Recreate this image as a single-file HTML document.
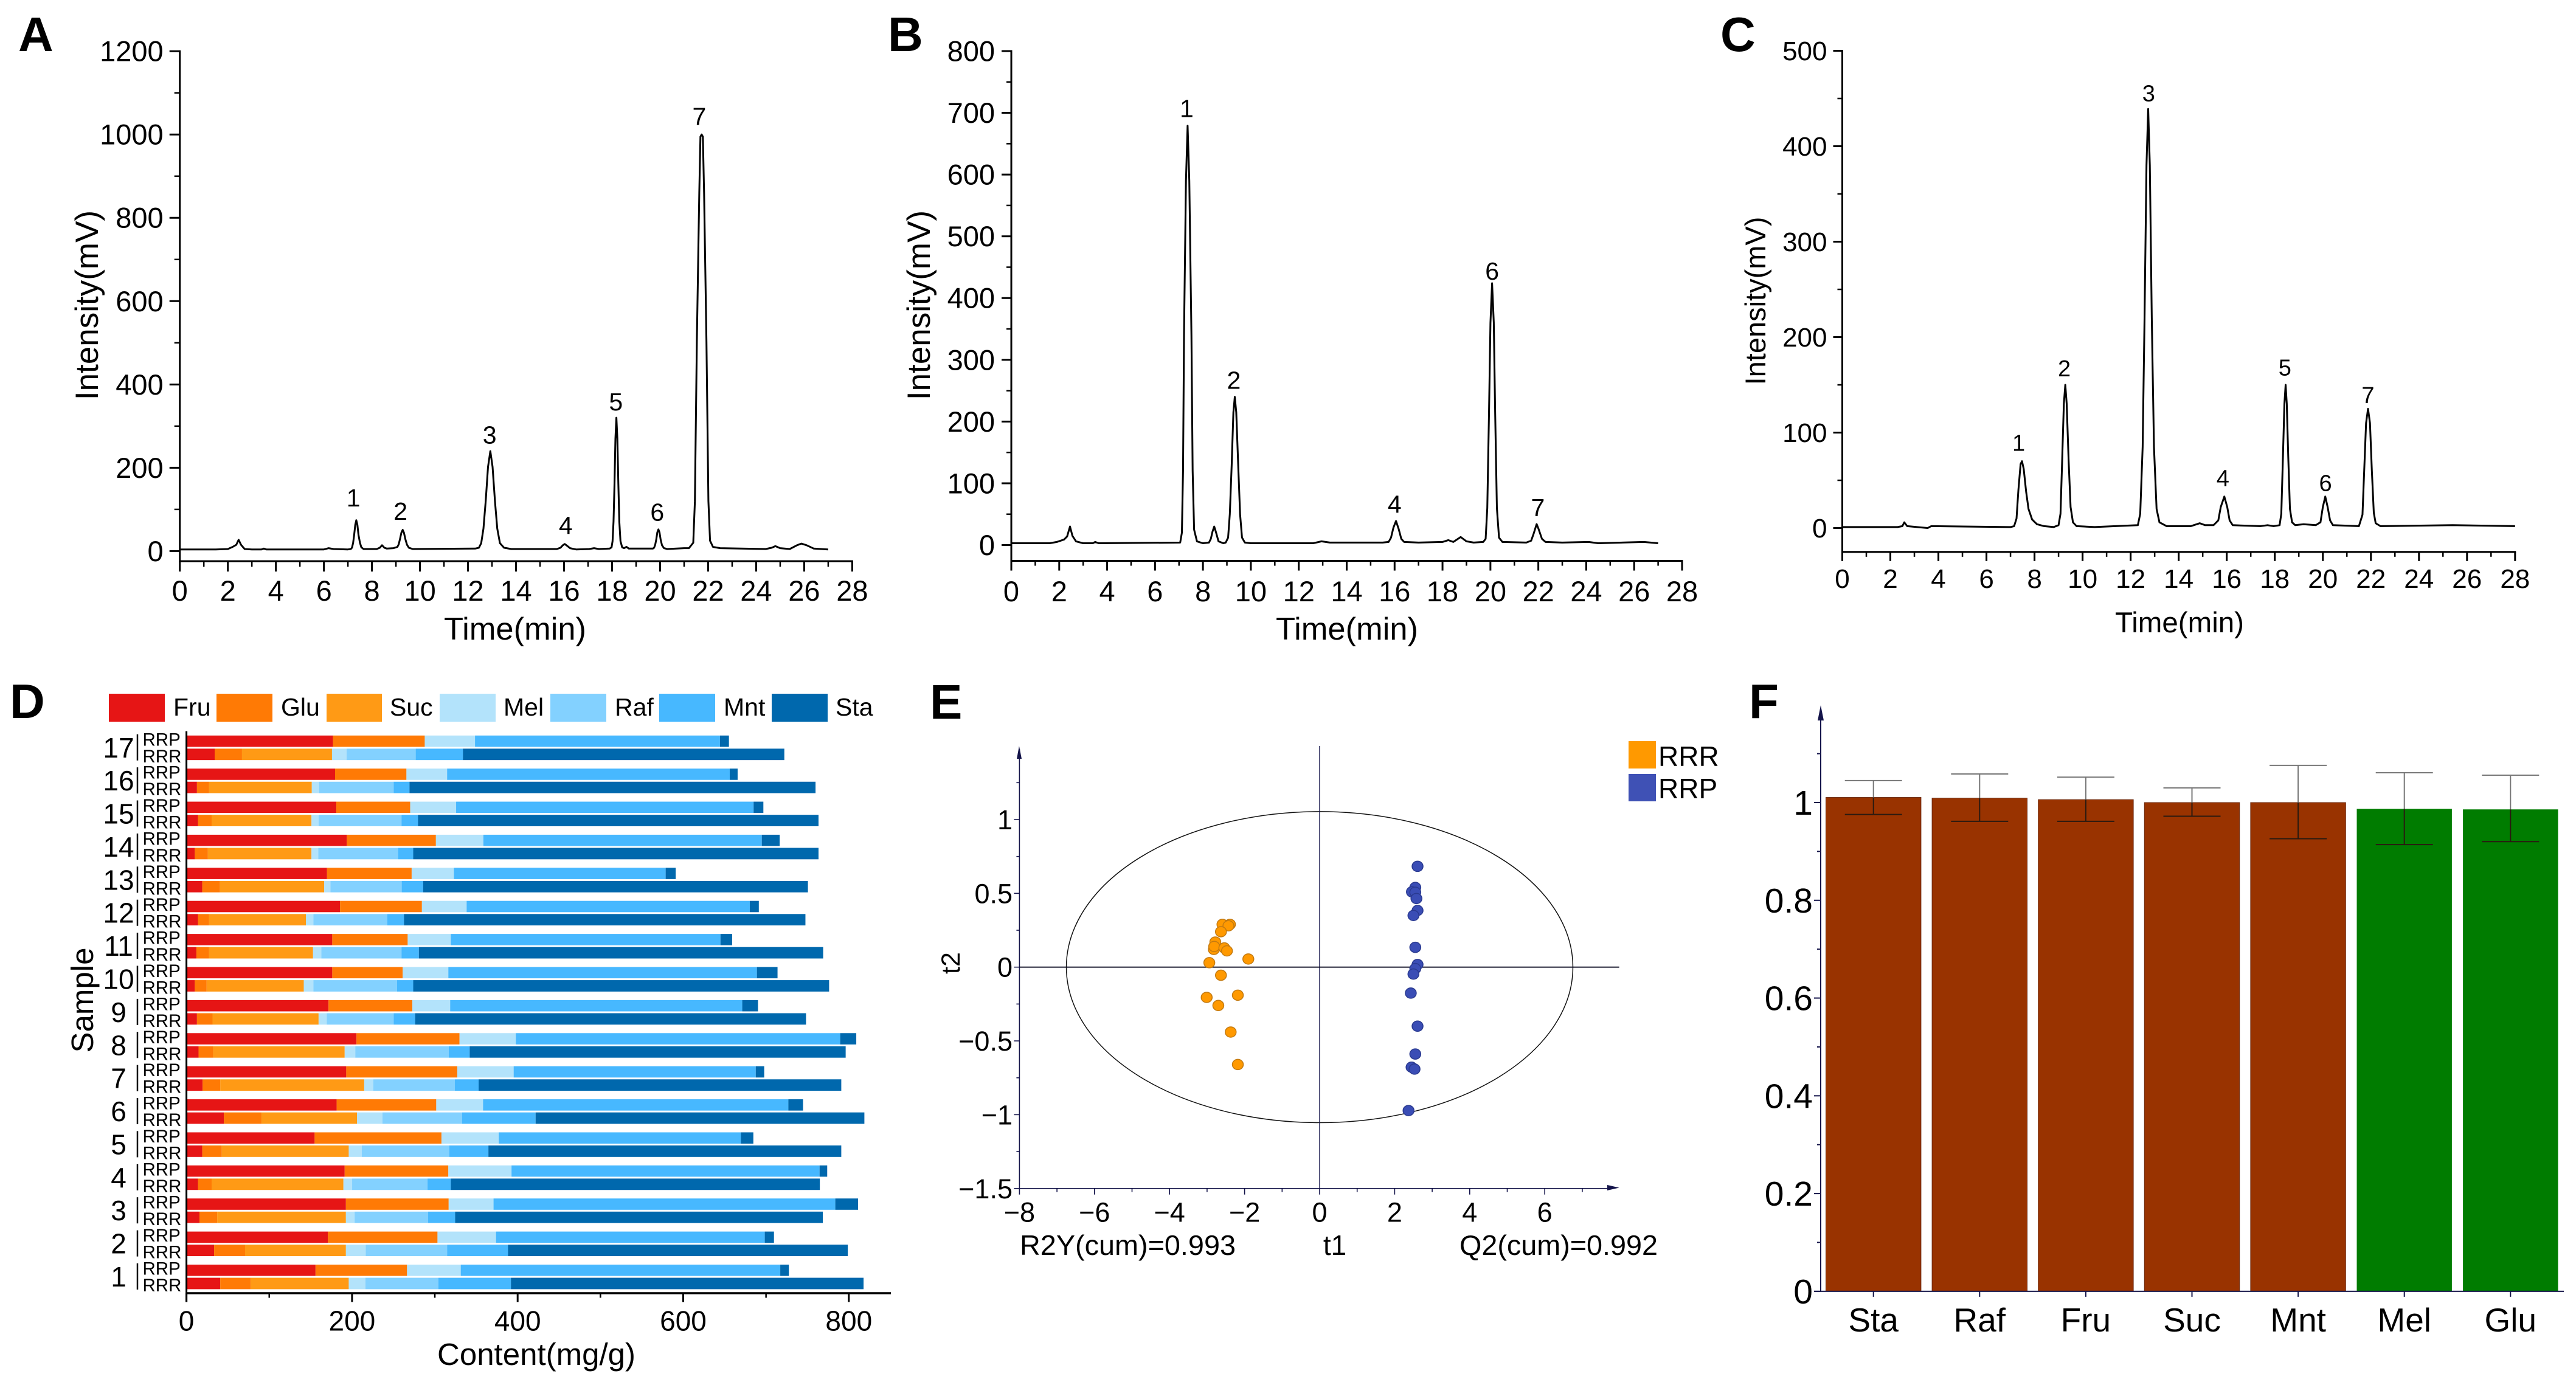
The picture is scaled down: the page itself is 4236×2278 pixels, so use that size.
<!DOCTYPE html>
<html lang="en">
<head>
<meta charset="utf-8">
<title>Sugar chromatograms, content, score plot and ratio figure</title>
<style>
html,body{margin:0;padding:0;background:#fff;}
svg{display:block;font-family:"Liberation Sans",Arial,sans-serif;fill:#000;}
</style>
</head>
<body>
<svg id="figure" xmlns="http://www.w3.org/2000/svg" width="4236" height="2278" viewBox="0 0 4236 2278">
<rect x="0" y="0" width="4236" height="2278" fill="#fff"/>
<text x="30" y="84" font-size="80" font-weight="700">A</text>
<text x="1460" y="84" font-size="80" font-weight="700">B</text>
<text x="2829" y="84" font-size="80" font-weight="700">C</text>
<text x="16" y="1181" font-size="80" font-weight="700">D</text>
<text x="1529" y="1182" font-size="80" font-weight="700">E</text>
<text x="2876" y="1181" font-size="80" font-weight="700">F</text>

<text x="847" y="1052" font-size="52" text-anchor="middle" textLength="234" lengthAdjust="spacingAndGlyphs">Time(min)</text>
<text transform="translate(161,502) rotate(-90)" font-size="53" text-anchor="middle">Intensity(mV)</text>
<text x="2215" y="1052" font-size="52" text-anchor="middle" textLength="234" lengthAdjust="spacingAndGlyphs">Time(min)</text>
<text transform="translate(1529,502) rotate(-90)" font-size="53" text-anchor="middle">Intensity(mV)</text>
<text x="3584" y="1040" font-size="47" text-anchor="middle" textLength="212" lengthAdjust="spacingAndGlyphs">Time(min)</text>
<text transform="translate(2903,495) rotate(-90)" font-size="47" text-anchor="middle">Intensity(mV)</text>

<g font-size="41">
<rect x="179" y="1141" width="92" height="46" fill="#E61515"/>
<text x="285" y="1177">Fru</text>
<rect x="356" y="1141" width="92" height="46" fill="#FF7A05"/>
<text x="462" y="1177">Glu</text>
<rect x="537" y="1141" width="91" height="46" fill="#FF9A15"/>
<text x="641" y="1177">Suc</text>
<rect x="723" y="1141" width="92" height="46" fill="#B3E3FB"/>
<text x="828" y="1177">Mel</text>
<rect x="905" y="1141" width="92" height="46" fill="#83D1FF"/>
<text x="1011" y="1177">Raf</text>
<rect x="1084" y="1141" width="92" height="46" fill="#47B8FF"/>
<text x="1190" y="1177">Mnt</text>
<rect x="1269" y="1141" width="92" height="46" fill="#0068AD"/>
<text x="1374" y="1177">Sta</text>
</g>
<text x="882" y="2245" font-size="51" text-anchor="middle">Content(mg/g)</text>
<text transform="translate(153,1645) rotate(-90)" font-size="51" text-anchor="middle">Sample</text>

<text transform="translate(1578,1584) rotate(-90)" font-size="43" text-anchor="middle">t2</text>
<text x="2195" y="2064" font-size="46" text-anchor="middle">t1</text>
<text x="1677" y="2064" font-size="46" textLength="355" lengthAdjust="spacingAndGlyphs">R2Y(cum)=0.993</text>
<text x="2400" y="2064" font-size="46" textLength="326" lengthAdjust="spacingAndGlyphs">Q2(cum)=0.992</text>
<rect x="2678" y="1219" width="45" height="45" fill="#FF9900"/>
<text x="2727" y="1260" font-size="46">RRR</text>
<rect x="2678" y="1273" width="45" height="45" fill="#3F51B5"/>
<text x="2727" y="1313" font-size="46">RRP</text>
</svg>

<script>
/* ---------- Panel A data ---------- */
const timeA = [
0,1.5,2,2.2,2.35,2.45,2.55,2.7,3,3.4,3.5,3.6,6,6.2,6.4,
7,7.12,7.17,7.215,7.26,7.305,7.35,7.395,7.44,7.5,7.56,7.65,
8.2,8.33,8.42,8.52,8.62,8.9,9.06,9.115,9.17,9.225,9.28,9.335,9.39,9.46,9.54,9.7,
12.3,12.455,12.55,12.645,12.74,12.835,12.93,13.025,13.12,13.22,13.33,13.5,13.8,
15.7,15.85,15.95,16.03,16.12,16.25,16.5,17.05,17.25,17.45,
17.9,17.98,18.02,18.06,18.1,18.14,18.18,18.22,18.26,18.3,18.35,18.42,18.5,18.6,18.7,
19.7,19.75,19.795,19.84,19.885,19.93,19.975,20.02,20.08,20.16,20.3,21,
21.2,21.38,21.45,21.53,21.63,21.68,21.73,21.78,21.83,21.93,22.01,22.08,22.2,22.5,
24.4,24.65,24.8,25,25.4,25.7,25.88,26.1,26.4,27];
const intensityA = [
4,4,5,10,15,27,15,5,4,4,6,4,4,7,5,
4,5,8,19,39,63,74,63,39,20,9,5,
5,8,14,8,6,7,10,16,29,44,51,44,29,15,8,5,
6,8,19,54,122,202,240,202,122,54,19,8,5,
5,8,14,17,13,7,4,5,7,5,
6,9,24,71,162,270,320,270,162,71,24,9,7,10,6,
6,8,15,28,45,52,45,28,14,7,5,7,
7,20,120,503,860,995,1000,995,860,503,120,25,10,7,
5,8,12,7,5,14,18,14,6,4];
const peakIdsA = ["1","2","3","4","5","6","7"];
const peakLabelTimeA = [7.23,9.19,12.9,16.07,18.16,19.88,21.63];
const peakLabelValueA = [107,75,258,41,338,73,1023];
const yMajorA = [0,200,400,600,800,1000,1200];
const yMinorA = [100,300,500,700,900,1100];

/* ---------- Panel B data ---------- */
const timeB = [
0,1.6,1.9,2.2,2.33,2.45,2.55,2.7,3,3.4,3.5,3.65,
7.05,7.12,7.17,7.21,7.29,7.36,7.43,7.52,7.57,7.63,7.75,8,
8.25,8.33,8.4,8.47,8.55,8.65,8.85,
8.95,9.05,9.12,9.2,9.27,9.33,9.39,9.47,9.55,9.63,9.75,10,
12.6,12.95,13.3,15.5,15.75,15.85,15.95,16.06,16.17,16.28,16.4,17,
18,18.24,18.45,18.76,19,19.3,19.7,19.8,19.87,19.94,20,20.07,20.14,20.2,20.27,20.36,20.5,
21.5,21.7,21.8,21.93,22.02,22.15,22.3,23,24.1,24.5,26.4,27];
const intensityB = [
3,3,5,9,14,30,15,6,3,3,5,3,
4,20,120,340,590,679,590,340,120,25,6,3,
4,10,22,30,20,6,3,
4,12,50,130,215,240,215,130,50,12,4,3,
3,6,4,4,5,12,28,39,26,10,5,4,
5,8,5,13,6,4,5,10,60,212,360,424,360,212,60,12,5,
4,7,18,34,25,10,5,4,5,3,5,3];
const peakIdsB = ["1","2","4","6","7"];
const peakLabelTimeB = [7.32,9.29,16,20.07,21.98];
const peakLabelValueB = [693,253,52,430,47];
const yMajorB = [0,100,200,300,400,500,600,700,800];
const yMinorB = [50,150,250,350,450,550,650,750];

/* ---------- Panel C data ---------- */
const timeC = [
0,2.3,2.5,2.58,2.7,3.55,3.7,7,
7.15,7.25,7.33,7.42,7.48,7.55,7.65,7.75,7.9,8.1,8.4,8.8,
9,9.08,9.15,9.22,9.28,9.34,9.42,9.5,9.6,9.75,10.5,
12.3,12.4,12.5,12.58,12.66,12.73,12.8,12.88,12.97,13.08,13.2,13.5,14.5,
14.88,15.1,15.45,15.65,15.75,15.9,16.02,16.12,16.25,17.4,17.7,17.95,
18.2,18.27,18.34,18.4,18.45,18.5,18.56,18.63,18.72,18.85,19.2,19.7,
19.9,20,20.1,20.2,20.3,20.42,21.5,
21.65,21.72,21.8,21.88,21.96,22.04,22.12,22.2,22.4,25.4,28];
const intensityC = [
1,1,2,6,2,0,2,1,
2,10,40,67,70,62,38,20,9,4,2,1,
3,15,70,130,150,130,70,22,6,2,1,
3,15,85,220,380,439,380,220,85,20,6,2,2,
5,3,3,8,22,33,22,8,3,2,3,2,
3,15,75,130,150,130,75,20,6,3,4,3,
6,22,33,22,8,3,2,
14,60,110,125,110,60,16,5,2,3,2];
const peakIdsC = ["1","2","3","4","5","6","7"];
const peakLabelTimeC = [7.34,9.24,12.75,15.84,18.42,20.11,21.88];
const peakLabelValueC = [81,159,447,44,160,39,131];
const yMajorC = [0,100,200,300,400,500];
const yMinorC = [50,150,250,350,450];

const timeMajorTicks = [0,2,4,6,8,10,12,14,16,18,20,22,24,26,28];
const timeMinorTicks = [1,3,5,7,9,11,13,15,17,19,21,23,25,27];

/* ---------- Panel D data (sample 1 to sample 17, mg/g) ---------- */
const sampleNames = ["1","2","3","4","5","6","7","8","9","10","11","12","13","14","15","16","17"];
const sugarNames = ["Fru","Glu","Suc","Mel","Raf","Mnt","Sta"];
const sugarColors = ["#E61515","#FF7A05","#FF9A15","#B3E3FB","#83D1FF","#47B8FF","#0068AD"];
const fruRRP = [155.9,170.9,192.6,191.1,154.8,181.4,193,205.4,171.6,176.1,176.1,185.5,169.8,193.7,181,179.5,176.9];
const gluRRP = [110.5,132.3,124.1,125.2,153.2,120.3,134.1,124.4,101.2,85.1,91.1,98.9,102.2,107.6,89.2,86.2,110.9];
const sucRRP = [0,0,0,0,0,0,0,0,0,0,0,0,0,0,0,0,0];
const melRRP = [64.9,70.7,54.2,76.3,69.2,56.5,68.1,68,45.7,55.1,52.1,54,51,57.3,55.5,49.1,60.7];
const rafRRP = [0,0,0,0,0,0,0,0,0,0,0,0,0,0,0,0,0];
const mntRRP = [385.9,324.6,412.8,372.1,292.4,368.8,292.4,391.8,352.8,372.7,325.7,342,255.8,336.3,359.3,341.4,295.9];
const staRRP = [10.4,11.1,27.5,9.2,15.1,17.7,10.2,19.4,19,24.9,14.1,10.9,12.1,21.6,11.8,9.5,10.8];
const fruRRR = [40.8,33.4,15.7,13.9,19.1,45.3,19.5,14.6,12.7,10.1,12,13.9,19.1,10.1,13.9,12.7,34.1];
const gluRRR = [36.8,37.4,21.4,16.5,23.6,45.4,21.3,17.6,18.8,14.3,15.4,13.5,21.4,15.8,16.5,14.7,33];
const sucRRR = [118.4,121.8,155.5,159.2,153.3,115.4,173.9,158.9,128.1,117.3,125.5,116.9,125.9,125.1,120.6,124,108.7];
const melRRR = [20.2,24,10.5,10.5,15.7,30.7,10.9,12.8,9.8,11.6,10.1,9,7.5,8.3,8.6,9,17.6];
const rafRRR = [88.1,98.2,88.8,91.1,105.7,96,98.6,112.8,80.9,101.1,96.7,89.2,86.1,96.3,100.1,89.9,83.5];
const mntRRR = [87.6,73.5,32.6,28.1,47.3,88.9,28.7,25.4,25.9,19.5,21,20.2,25.9,18.3,19.9,19.1,57];
const staRRR = [425.9,410.5,444.1,445.7,426.2,397.1,438,454.1,472.1,502.3,488.3,484.9,464.7,489.5,483.8,490.4,388.2];
const contentMajorTicks = [0,200,400,600,800];
const contentMinorTicks = [100,300,500,700];

/* ---------- Panel E data ---------- */
const t1RRR = [-2.59,-2.39,-2.43,-2.63,-2.78,-2.82,-2.81,-2.54,-2.47,-1.9,-2.94,-2.63,-2.18,-3.01,-2.7,-2.37,-2.18];
const t2RRR = [0.29,0.29,0.28,0.24,0.17,0.12,0.14,0.13,0.11,0.055,0.03,-0.055,-0.19,-0.205,-0.26,-0.44,-0.66];
const t1RRP = [2.61,2.55,2.46,2.55,2.58,2.61,2.5,2.55,2.61,2.55,2.5,2.43,2.61,2.55,2.45,2.53,2.37];
const t2RRP = [0.683,0.54,0.51,0.507,0.465,0.384,0.35,0.134,0.018,-0.01,-0.047,-0.176,-0.4,-0.589,-0.678,-0.691,-0.972];
const ellipseSemiT1 = [6.75];
const ellipseSemiT2 = [1.054];
const t1MajorTicks = [-8,-6,-4,-2,0,2,4,6];
const t1MinorTicks = [-7,-5,-3,-1,1,3,5,7];
const t2MajorTicks = [-1.5,-1,-0.5,0,0.5,1];
const t2MinorTicks = [-1.25,-0.75,-0.25,0.25,0.75,1.25];

/* ---------- Panel F data ---------- */
const ratioCategories = ["Sta","Raf","Fru","Suc","Mnt","Mel","Glu"];
const ratioValues = [1.0105,1.009,1.006,1,1,0.987,0.986];
const ratioUpper = [1.045,1.0585,1.052,1.03,1.076,1.061,1.056];
const ratioLower = [0.9756,0.9616,0.9616,0.972,0.926,0.914,0.92];
const ratioColors = ["#993300","#993300","#993300","#993300","#993300","#007C00","#007C00"];
const ratioMajorTicks = [0,0.2,0.4,0.6,0.8,1];
const ratioMinorTicks = [0.1,0.3,0.5,0.7,0.9,1.1];

/* ---------- helpers ---------- */
const NS = "http://www.w3.org/2000/svg";
const root = document.getElementById("figure");
function mk(tag, attrs, text) {
  const el = document.createElementNS(NS, tag);
  for (const k in attrs) el.setAttribute(k, attrs[k]);
  if (text !== undefined) el.textContent = text;
  root.appendChild(el);
  return el;
}

/* ---------- Panels A, B, C ---------- */
function drawChromatogram(p, times, values, yMajor, yMinor, ids, labelTimes, labelValues) {
  const xS = t => p.x0 + t * (p.x28 - p.x0) / 28;
  const yS = v => p.y0 - v * (p.y0 - p.yTop) / p.vTop;

  const yAxis = mk("line", {x1: p.x0, x2: p.x0, y1: p.yAxis + 1.5, y2: p.yTop - 1.5, stroke: "#000", "stroke-width": 3});
  
  
  const xAxis = mk("line", {x1: p.x0, x2: p.x28 + 1.5, y1: p.yAxis, y2: p.yAxis, stroke: "#000", "stroke-width": 3});
  
  

  yMajor.forEach(v => {
    const tick = mk("line", {x1: p.x0 - p.major, x2: p.x0, y1: yS(v), y2: yS(v), stroke: "#000", "stroke-width": 3});
    
    
    const lab = mk("text", {x: p.x0 - p.yLabelGap, y: yS(v) + p.tickFont * 0.35, "font-size": p.tickFont, "text-anchor": "end"}, String(v));
    
    
  });
  yMinor.forEach(v => {
    const tick = mk("line", {x1: p.x0 - p.minor, x2: p.x0, y1: yS(v), y2: yS(v), stroke: "#000", "stroke-width": 2.5});
    
    
  });
  timeMajorTicks.forEach(t => {
    const tick = mk("line", {x1: xS(t), x2: xS(t), y1: p.yAxis, y2: p.yAxis + p.major, stroke: "#000", "stroke-width": 3});
    
    
    const lab = mk("text", {x: xS(t), y: p.xLabelY, "font-size": p.tickFont, "text-anchor": "middle"}, String(t));
    
    
  });
  timeMinorTicks.forEach(t => {
    const tick = mk("line", {x1: xS(t), x2: xS(t), y1: p.yAxis, y2: p.yAxis + p.minor, stroke: "#000", "stroke-width": 2.5});
    
    
  });

  const pts = times.map((t, i) => xS(t).toFixed(1) + "," + yS(values[i]).toFixed(1)).join(" ");
  const trace = mk("polyline", {points: pts, fill: "none", stroke: "#000", "stroke-width": 3, "stroke-linejoin": "round"});
  
  

  ids.forEach((id, i) => {
    const lab = mk("text", {x: xS(labelTimes[i]), y: yS(labelValues[i]), "font-size": p.peakFont, "text-anchor": "middle"}, id);
    
    
  });
}
drawChromatogram({key: "a", x0: 295.7, x28: 1401.4, y0: 906.4, yTop: 84.2, vTop: 1200, yAxis: 923, major: 17, minor: 9, tickFont: 47, yLabelGap: 27, xLabelY: 988, peakFont: 41},
  timeA, intensityA, yMajorA, yMinorA, peakIdsA, peakLabelTimeA, peakLabelValueA);
drawChromatogram({key: "b", x0: 1663, x28: 2766, y0: 896.5, yTop: 84, vTop: 800, yAxis: 922.5, major: 16, minor: 8, tickFont: 47, yLabelGap: 27, xLabelY: 989, peakFont: 41},
  timeB, intensityB, yMajorB, yMinorB, peakIdsB, peakLabelTimeB, peakLabelValueB);
drawChromatogram({key: "c", x0: 3029.5, x28: 4135.8, y0: 868.5, yTop: 83.5, vTop: 500, yAxis: 907.8, major: 15, minor: 8, tickFont: 44, yLabelGap: 25, xLabelY: 967, peakFont: 38},
  timeC, intensityC, yMajorC, yMinorC, peakIdsC, peakLabelTimeC, peakLabelValueC);

/* ---------- Panel D ---------- */
const xD = v => 306.6 + v * 1.3615;
const rowTopD = i => 2080 - i * 54.39;
const seriesRRP = [fruRRP, gluRRP, sucRRP, melRRP, rafRRP, mntRRP, staRRP];
const seriesRRR = [fruRRR, gluRRR, sucRRR, melRRR, rafRRR, mntRRR, staRRR];

sampleNames.forEach((name, i) => {
  const top = rowTopD(i);
  let cumP = 0;
  seriesRRP.forEach((arr, s) => {
    const seg = mk("rect", {x: xD(cumP), y: top, width: Math.max(0, xD(cumP + arr[i]) - xD(cumP)), height: 18.6, fill: sugarColors[s]});
    
    
    cumP += arr[i];
  });
  let cumR = 0;
  seriesRRR.forEach((arr, s) => {
    const seg = mk("rect", {x: xD(cumR), y: top + 21.6, width: Math.max(0, xD(cumR + arr[i]) - xD(cumR)), height: 18.8, fill: sugarColors[s]});
    
    
    cumR += arr[i];
  });
  const rrpLab = mk("text", {x: 234.5, y: top + 16.5, "font-size": 29.5}, "RRP");
  
  
  const rrrLab = mk("text", {x: 234.5, y: top + 44, "font-size": 29.5}, "RRR");
  
  
  const bracket = mk("line", {x1: 226, x2: 226, y1: top - 2, y2: top + 41, stroke: "#000", "stroke-width": 2.5});
  
  
  const sLab = mk("text", {x: 195, y: top + 36, "font-size": 46, "text-anchor": "middle"}, name);
  
  
});

const yAxisD = mk("line", {x1: 306.6, x2: 306.6, y1: 1202.6, y2: 2141.5, stroke: "#000", "stroke-width": 3});


const xAxisD = mk("line", {x1: 306.6, x2: 1465, y1: 2127, y2: 2127, stroke: "#000", "stroke-width": 3.5});


contentMajorTicks.forEach(v => {
  const tick = mk("line", {x1: xD(v), x2: xD(v), y1: 2127, y2: 2141.5, stroke: "#000", "stroke-width": 3});
  
  
  const lab = mk("text", {x: xD(v), y: 2188.5, "font-size": 46, "text-anchor": "middle"}, String(v));
  
  
});
contentMinorTicks.forEach(v => {
  const tick = mk("line", {x1: xD(v), x2: xD(v), y1: 2127, y2: 2134.5, stroke: "#000", "stroke-width": 2.5});
  
  
});

/* ---------- Panel E ---------- */
const xE = v => 2170 + v * 61.7;
const yE = v => 1590.7 - v * 242.7;
const axisE = "#14144a";

const ellipse = mk("ellipse", {cx: xE(0), cy: yE(0), rx: xE(ellipseSemiT1[0]) - xE(0), ry: yE(0) - yE(ellipseSemiT2[0]), fill: "none", stroke: "#111", "stroke-width": 1.5});


const yAxisE = mk("line", {x1: xE(-8), x2: xE(-8), y1: 1232, y2: yE(-1.5), stroke: axisE, "stroke-width": 1.6});


const xAxisE = mk("line", {x1: xE(-8), x2: 2650, y1: yE(-1.5), y2: yE(-1.5), stroke: axisE, "stroke-width": 1.6});


const vZero = mk("line", {x1: xE(0), x2: xE(0), y1: 1227, y2: yE(-1.5), stroke: axisE, "stroke-width": 1.4});


const hZero = mk("line", {x1: xE(-8), x2: 2662.6, y1: yE(0), y2: yE(0), stroke: "#0a0a20", "stroke-width": 1.8});


const arrowUpE = mk("polygon", {points: "1675.9,1227 1672,1248 1680,1248", fill: axisE});


const arrowRightE = mk("polygon", {points: "2662.6,1953.5 2643,1949 2643,1958", fill: axisE});



t1MajorTicks.forEach(v => {
  const tick = mk("line", {x1: xE(v), x2: xE(v), y1: yE(-1.5), y2: yE(-1.5) + 10, stroke: axisE, "stroke-width": 1.6});
  
  
  const lab = mk("text", {x: xE(v), y: 2009.5, "font-size": 45, "text-anchor": "middle"}, String(v).replace("-", "\u2212"));
  
  
});
t1MinorTicks.forEach(v => {
  const tick = mk("line", {x1: xE(v), x2: xE(v), y1: yE(-1.5), y2: yE(-1.5) + 6, stroke: axisE, "stroke-width": 1.6});
  
  
});
t2MajorTicks.forEach(v => {
  const tick = mk("line", {x1: xE(-8) - 9, x2: xE(-8), y1: yE(v), y2: yE(v), stroke: axisE, "stroke-width": 1.6});
  
  
  const lab = mk("text", {x: 1665, y: yE(v) + 16, "font-size": 45, "text-anchor": "end"}, String(v).replace("-", "\u2212"));
  
  
});
t2MinorTicks.forEach(v => {
  const tick = mk("line", {x1: xE(-8) - 5, x2: xE(-8), y1: yE(v), y2: yE(v), stroke: axisE, "stroke-width": 1.6});
  
  
});
t1RRR.forEach((v, i) => {
  const dot = mk("ellipse", {cx: xE(v), cy: yE(t2RRR[i]), rx: 9, ry: 8.5, fill: "#FF9900", stroke: "#C47A10", "stroke-width": 1.5});
  
  
});
t1RRP.forEach((v, i) => {
  const dot = mk("ellipse", {cx: xE(v), cy: yE(t2RRP[i]), rx: 9, ry: 8.5, fill: "#3A4DB5", stroke: "#2A3A90", "stroke-width": 1.5});
  
  
});

/* ---------- Panel F ---------- */
const yF = v => 2123.9 - v * 803.9;
const xF = i => 3080.7 + i * 174.6;
const axisF = "#14144a";
ratioCategories.forEach((name, i) => {
  const bar = mk("rect", {x: xF(i) - 78.2, y: yF(ratioValues[i]), width: 156.4, height: yF(0) - yF(ratioValues[i]), fill: ratioColors[i], stroke: "#6b2a10", "stroke-width": ratioColors[i] === "#993300" ? 1 : 0});
  
  
  const errTop = mk("line", {x1: xF(i), x2: xF(i), y1: yF(ratioUpper[i]), y2: yF(ratioValues[i]), stroke: "#777", "stroke-width": 2});
  
  
  const capTop = mk("line", {x1: xF(i) - 47, x2: xF(i) + 47, y1: yF(ratioUpper[i]), y2: yF(ratioUpper[i]), stroke: "#777", "stroke-width": 2});
  
  
  const errLow = mk("line", {x1: xF(i), x2: xF(i), y1: yF(ratioValues[i]), y2: yF(ratioLower[i]), stroke: "#2a1a10", "stroke-width": 2});
  
  
  const capLow = mk("line", {x1: xF(i) - 47, x2: xF(i) + 47, y1: yF(ratioLower[i]), y2: yF(ratioLower[i]), stroke: "#2a1a10", "stroke-width": 2});
  
  
  const tick = mk("line", {x1: xF(i), x2: xF(i), y1: yF(0), y2: yF(0) + 9, stroke: axisF, "stroke-width": 2});
  
  
  const lab = mk("text", {x: xF(i), y: 2190, "font-size": 55, "text-anchor": "middle"}, name);
  
  
});
const yAxisF = mk("line", {x1: 2994, x2: 2994, y1: 1166, y2: yF(0), stroke: axisF, "stroke-width": 2});


const xAxisF = mk("line", {x1: 2983, x2: 4216, y1: yF(0), y2: yF(0), stroke: axisF, "stroke-width": 2});


const arrowUpF = mk("polygon", {points: "2994,1160 2989,1185 2999,1185", fill: axisF});


ratioMajorTicks.forEach(v => {
  const tick = mk("line", {x1: 2983, x2: 2994, y1: yF(v), y2: yF(v), stroke: axisF, "stroke-width": 2});
  
  
  const lab = mk("text", {x: 2981, y: yF(v) + 20, "font-size": 57, "text-anchor": "end"}, String(v));
  
  
});
ratioMinorTicks.forEach(v => {
  const tick = mk("line", {x1: 2988, x2: 2994, y1: yF(v), y2: yF(v), stroke: axisF, "stroke-width": 2});
  
  
});
</script>
</body>
</html>
